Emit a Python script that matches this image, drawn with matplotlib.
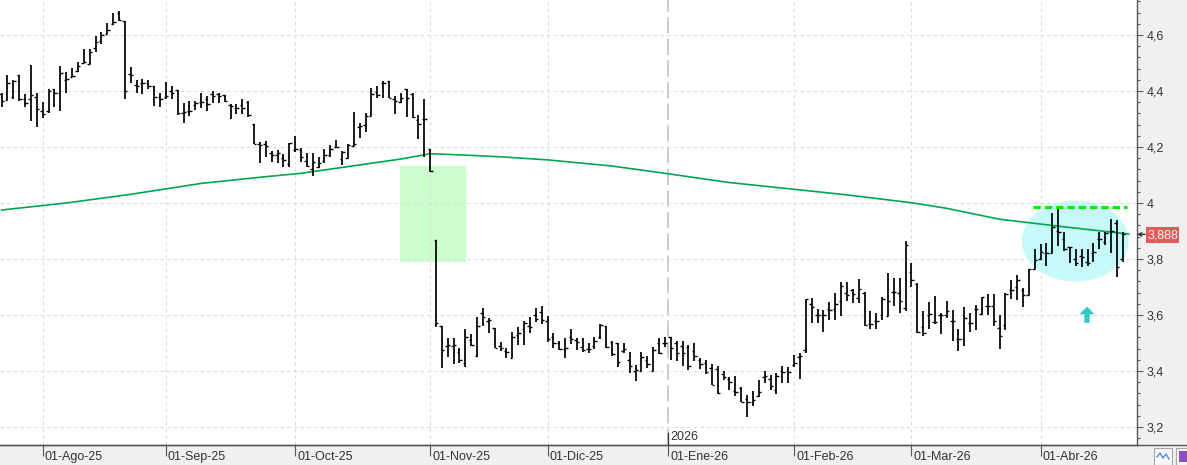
import matplotlib
matplotlib.use('Agg')
import matplotlib.pyplot as plt
import matplotlib.transforms as mtransforms
from matplotlib.patches import Rectangle, Ellipse
from matplotlib.ticker import FixedLocator, FuncFormatter

plt.rcParams['font.family'] = ['Liberation Sans', 'DejaVu Sans']

# ---------------- data (bar index 0 = 01-Ago-25) ----------------
first_index = -7
opens = [4.388, 4.368, 4.380, 4.456, 4.370, 4.370, 4.380,
         4.330, 4.330, 4.406, 4.394, 4.440, 4.450, 4.470, 4.500, 4.495, 4.552,
         4.580, 4.604, 4.640, 4.680, 4.651, 4.460, 4.420, 4.430, 4.430, 4.418,
         4.380, 4.380, 4.400, 4.404, 4.320, 4.330, 4.350, 4.360, 4.370, 4.390,
         4.390, 4.385, 4.350, 4.340, 4.350, 4.360, 4.282, 4.210, 4.210, 4.180,
         4.170, 4.160, 4.140, 4.190, 4.190, 4.150, 4.120, 4.130, 4.150, 4.170,
         4.200, 4.158, 4.160, 4.205, 4.270, 4.279, 4.311, 4.396, 4.430, 4.437,
         4.370, 4.360, 4.406, 4.390, 4.296, 4.300, 4.192, 3.868, 3.560, 3.490,
         3.490, 3.469, 3.430, 3.511, 3.454, 3.606, 3.580, 3.552, 3.490, 3.470,
         3.445, 3.530, 3.550, 3.560, 3.600, 3.610, 3.580, 3.520, 3.500, 3.480,
         3.520, 3.510, 3.487, 3.480, 3.490, 3.520, 3.562, 3.505, 3.500, 3.470,
         3.439, 3.400, 3.400, 3.440, 3.400, 3.500, 3.500, 3.520, 3.500, 3.490,
         3.487, 3.470, 3.440, 3.430, 3.410, 3.406, 3.390, 3.370, 3.330, 3.338,
         3.300, 3.290, 3.310, 3.380, 3.370, 3.332, 3.400, 3.400, 3.420, 3.450,
         3.475, 3.640, 3.600, 3.600, 3.620, 3.620, 3.651, 3.680, 3.689, 3.660,
         3.680, 3.567, 3.580, 3.600, 3.596, 3.683, 3.680, 3.624, 3.752, 3.711,
         3.558, 3.600, 3.574, 3.600, 3.600, 3.578, 3.514, 3.514, 3.573, 3.620,
         3.603, 3.632, 3.632, 3.552, 3.564, 3.690, 3.700, 3.690, 3.671, 3.763,
         3.800, 3.820, 3.820, 3.900, 3.870, 3.844, 3.800, 3.810, 3.790, 3.820,
         3.870, 3.860, 3.900, 3.930, 3.800]
highs = [4.392, 4.456, 4.439, 4.456, 4.389, 4.493, 4.392,
         4.360, 4.406, 4.406, 4.489, 4.468, 4.483, 4.502, 4.549, 4.549, 4.596,
         4.610, 4.644, 4.677, 4.687, 4.651, 4.487, 4.439, 4.444, 4.439, 4.418,
         4.392, 4.432, 4.418, 4.404, 4.356, 4.364, 4.364, 4.392, 4.382, 4.400,
         4.392, 4.385, 4.352, 4.352, 4.370, 4.364, 4.282, 4.217, 4.223, 4.187,
         4.189, 4.175, 4.213, 4.239, 4.195, 4.180, 4.180, 4.165, 4.192, 4.207,
         4.225, 4.187, 4.211, 4.324, 4.285, 4.320, 4.410, 4.418, 4.437, 4.437,
         4.383, 4.392, 4.406, 4.392, 4.314, 4.370, 4.192, 3.868, 3.562, 3.517,
         3.517, 3.483, 3.549, 3.531, 3.594, 3.624, 3.590, 3.552, 3.502, 3.483,
         3.538, 3.558, 3.580, 3.594, 3.624, 3.632, 3.596, 3.537, 3.507, 3.519,
         3.549, 3.519, 3.517, 3.501, 3.522, 3.567, 3.562, 3.507, 3.501, 3.501,
         3.469, 3.421, 3.469, 3.455, 3.487, 3.517, 3.523, 3.523, 3.508, 3.507,
         3.493, 3.499, 3.448, 3.439, 3.424, 3.418, 3.401, 3.380, 3.382, 3.342,
         3.314, 3.329, 3.368, 3.400, 3.386, 3.392, 3.418, 3.413, 3.457, 3.463,
         3.657, 3.660, 3.620, 3.618, 3.648, 3.677, 3.717, 3.719, 3.692, 3.727,
         3.683, 3.614, 3.608, 3.665, 3.749, 3.733, 3.733, 3.864, 3.785, 3.713,
         3.614, 3.648, 3.669, 3.608, 3.650, 3.618, 3.550, 3.627, 3.606, 3.636,
         3.665, 3.675, 3.675, 3.600, 3.677, 3.725, 3.743, 3.695, 3.763, 3.836,
         3.853, 3.856, 3.963, 3.977, 3.898, 3.844, 3.834, 3.834, 3.834, 3.858,
         3.898, 3.898, 3.942, 3.939, 3.898]
lows = [4.342, 4.368, 4.373, 4.365, 4.342, 4.294, 4.273,
        4.302, 4.320, 4.342, 4.330, 4.394, 4.449, 4.469, 4.499, 4.495, 4.540,
        4.567, 4.604, 4.636, 4.651, 4.373, 4.427, 4.392, 4.388, 4.406, 4.346,
        4.344, 4.370, 4.370, 4.314, 4.287, 4.312, 4.332, 4.338, 4.329, 4.356,
        4.356, 4.362, 4.299, 4.317, 4.317, 4.308, 4.210, 4.144, 4.163, 4.145,
        4.142, 4.130, 4.130, 4.183, 4.148, 4.127, 4.098, 4.124, 4.144, 4.165,
        4.199, 4.134, 4.156, 4.204, 4.233, 4.252, 4.311, 4.374, 4.374, 4.376,
        4.317, 4.356, 4.306, 4.302, 4.229, 4.165, 4.112, 3.558, 3.412, 3.449,
        3.424, 3.430, 3.415, 3.489, 3.451, 3.561, 3.535, 3.481, 3.471, 3.445,
        3.445, 3.492, 3.493, 3.537, 3.576, 3.567, 3.505, 3.481, 3.475, 3.445,
        3.495, 3.475, 3.469, 3.463, 3.477, 3.513, 3.481, 3.455, 3.415, 3.465,
        3.392, 3.365, 3.400, 3.410, 3.400, 3.461, 3.487, 3.439, 3.436, 3.418,
        3.404, 3.436, 3.406, 3.388, 3.350, 3.317, 3.368, 3.332, 3.312, 3.288,
        3.235, 3.276, 3.308, 3.356, 3.332, 3.317, 3.358, 3.358, 3.415, 3.370,
        3.463, 3.570, 3.570, 3.538, 3.582, 3.582, 3.598, 3.651, 3.642, 3.642,
        3.562, 3.550, 3.549, 3.582, 3.596, 3.633, 3.606, 3.614, 3.701, 3.535,
        3.525, 3.549, 3.567, 3.531, 3.588, 3.507, 3.473, 3.490, 3.541, 3.546,
        3.600, 3.600, 3.562, 3.478, 3.546, 3.657, 3.653, 3.627, 3.671, 3.763,
        3.796, 3.775, 3.820, 3.848, 3.829, 3.784, 3.776, 3.770, 3.776, 3.790,
        3.834, 3.850, 3.820, 3.737, 3.790]
closes = [4.365, 4.427, 4.436, 4.370, 4.358, 4.386, 4.336,
          4.317, 4.400, 4.392, 4.463, 4.444, 4.452, 4.490, 4.503, 4.538, 4.576,
          4.601, 4.618, 4.648, 4.654, 4.400, 4.456, 4.418, 4.427, 4.418, 4.380,
          4.370, 4.381, 4.394, 4.320, 4.325, 4.329, 4.356, 4.362, 4.352, 4.383,
          4.382, 4.364, 4.346, 4.340, 4.338, 4.314, 4.210, 4.207, 4.205, 4.171,
          4.180, 4.154, 4.213, 4.192, 4.163, 4.132, 4.145, 4.142, 4.171, 4.194,
          4.199, 4.182, 4.207, 4.210, 4.275, 4.311, 4.389, 4.385, 4.430, 4.376,
          4.364, 4.375, 4.375, 4.308, 4.281, 4.299, 4.114, 3.573, 3.475, 3.492,
          3.492, 3.439, 3.520, 3.493, 3.561, 3.594, 3.582, 3.481, 3.481, 3.469,
          3.523, 3.535, 3.573, 3.558, 3.585, 3.582, 3.513, 3.501, 3.479, 3.483,
          3.516, 3.504, 3.475, 3.479, 3.507, 3.564, 3.485, 3.460, 3.433, 3.477,
          3.418, 3.404, 3.451, 3.425, 3.475, 3.465, 3.501, 3.481, 3.465, 3.463,
          3.418, 3.453, 3.424, 3.398, 3.350, 3.320, 3.380, 3.362, 3.326, 3.290,
          3.288, 3.296, 3.326, 3.382, 3.348, 3.382, 3.398, 3.398, 3.427, 3.454,
          3.656, 3.627, 3.600, 3.600, 3.618, 3.639, 3.704, 3.671, 3.674, 3.692,
          3.564, 3.567, 3.580, 3.656, 3.650, 3.683, 3.650, 3.850, 3.725, 3.540,
          3.535, 3.602, 3.574, 3.600, 3.614, 3.580, 3.514, 3.588, 3.573, 3.620,
          3.665, 3.632, 3.580, 3.526, 3.675, 3.689, 3.725, 3.671, 3.763, 3.796,
          3.826, 3.820, 3.915, 3.898, 3.834, 3.842, 3.787, 3.808, 3.787, 3.826,
          3.870, 3.892, 3.901, 3.773, 3.888]

ma_index = [-7, 4, 15, 27, 38, 44, 52, 61, 66, 72, 78, 86, 97, 106, 117, 128,
            137, 148, 154, 163, 174, 185]
ma_values = [3.975, 4.000, 4.031, 4.070, 4.094, 4.106, 4.130, 4.157, 4.176,
             4.171, 4.165, 4.154, 4.132, 4.106, 4.073, 4.049, 4.029, 4.001,
             3.981, 3.942, 3.915, 3.889]

month_index = [0, 21, 43, 66, 86, 106.6, 128, 148, 170]
month_labels = ['01-Ago-25', '01-Sep-25', '01-Oct-25', '01-Nov-25', '01-Dic-25',
                '01-Ene-26', '01-Feb-26', '01-Mar-26', '01-Abr-26']
year_index = 106.6
year_label = '2026'
y_major = [3.2, 3.4, 3.6, 3.8, 4.0, 4.2, 4.4, 4.6]
last_price = 3.888
last_label = '3,888'

gap_x0, gap_x1, gap_y0, gap_y1 = 60.9, 72.1, 3.790, 4.132
res_level, res_x0, res_x1 = 3.987, 168.7, 184.7
ell_cx, ell_cy, ell_w, ell_h = 175.9, 3.864, 18.2, 0.289
arrow_x, arrow_y0, arrow_y1 = 177.9, 3.572, 3.630

# ---------------- figure ----------------
W, H = 1187, 465
PX0, PXS = 42.7, 5.87     # pixel of index 0, pixels per bar
AX_R, AX_B = 1137, 445    # right axis x, bottom axis y (pixels from top-left)

fig = plt.figure(figsize=(W / 100, H / 100), dpi=100)
fig.patch.set_facecolor('#f0f0f0')
ax = fig.add_axes([0, (H - AX_B) / H, AX_R / W, AX_B / H])
ax.set_facecolor('white')
ax.set_xlim((0 - PX0) / PXS, (AX_R - PX0) / PXS)
ax.set_ylim(4 - (AX_B - 203) / 280, 4 + 203 / 280)

for s in ['top', 'left']:
    ax.spines[s].set_visible(False)
ax.spines['right'].set_color('#555555')
ax.spines['right'].set_linewidth(1.0)
ax.spines['bottom'].set_color('#555555')
ax.spines['bottom'].set_linewidth(1.0)

# y axis on right
ax.yaxis.tick_right()
ax.yaxis.set_major_locator(FixedLocator(y_major))
minor = [3.16 + 0.04 * k for k in range(40)]
ax.yaxis.set_minor_locator(FixedLocator(minor))


def fmt(v, pos=None):
    s = f'{v:.1f}'
    if s.endswith('.0'):
        s = s[:-2]
    return s.replace('.', ',')


ax.yaxis.set_major_formatter(FuncFormatter(fmt))
ax.tick_params(axis='y', which='major', direction='out', length=4.3, width=0.8,
               color='#555555', labelsize=9, labelcolor='#333333', pad=2.6)
ax.tick_params(axis='y', which='minor', direction='out', length=2.3, width=0.8,
               color='#555555')

# x axis: ticks at month starts, custom labels
ax.set_xticks(month_index)
ax.set_xticklabels([''] * len(month_index))
ax.tick_params(axis='x', which='major', direction='out', length=8, width=0.8,
               color='#555555')
btrans = mtransforms.blended_transform_factory(ax.transData, ax.transAxes)
lab_trans = mtransforms.offset_copy(btrans, fig=fig, x=2, y=0, units='dots')
for xi, lab in zip(month_index, month_labels):
    ax.text(xi, -15 / AX_B, lab, transform=lab_trans, ha='left', va='baseline',
            fontsize=9, color='#333333', clip_on=False)

# grid
grid_kw = dict(colors='#dcdcdc', linewidth=0.8, linestyles=(0, (3, 3)), zorder=1)
ax.hlines(y_major, *ax.get_xlim(), **grid_kw)
ax.vlines([m for m in month_index if m != year_index], *ax.get_ylim(), **grid_kw)
# year separator
ax.vlines(year_index, *ax.get_ylim(), colors='#c8c8c8', linewidth=1.3,
          linestyles=(0, (9, 3)), zorder=1)
ax.plot([year_index, year_index], [0, 12 / AX_B], transform=btrans,
        color='#333333', lw=0.9, zorder=6)
ax.text(year_index, 5 / AX_B, year_label, transform=lab_trans, ha='left',
        va='baseline', fontsize=9, color='#333333')

# annotations: gap box, ellipse, resistance
ax.add_patch(Rectangle((gap_x0, gap_y0), gap_x1 - gap_x0, gap_y1 - gap_y0,
                       facecolor='#ccfdcc', edgecolor='none', zorder=0.5))
ax.add_patch(Ellipse((ell_cx, ell_cy), ell_w, ell_h, facecolor='#c8f9fa',
                     edgecolor='none', zorder=2))

# moving average
ax.plot(ma_index, ma_values, color='#00a84f', lw=1.2, zorder=3)

# OHLC bars
idx = [first_index + k for k in range(len(opens))]
ax.vlines(idx, lows, highs, colors='black', linewidth=1.25, zorder=4)
ax.hlines(opens, [i - 0.42 for i in idx], idx, colors='black', linewidth=1.0, zorder=4)
ax.hlines(closes, idx, [i + 0.42 for i in idx], colors='black', linewidth=1.0, zorder=4)

ax.hlines(res_level, res_x0, res_x1, colors='#00ee00', linewidth=2.2,
          linestyles=(0, (2.4, 1.3)), zorder=5)

ax.annotate('', xy=(arrow_x, arrow_y1), xytext=(arrow_x, arrow_y0),
            arrowprops=dict(arrowstyle='simple,head_length=0.55,head_width=1.1,tail_width=0.38',
                            color='#33c8c8', lw=0, shrinkA=0, shrinkB=0,
                            mutation_scale=10), zorder=5)

# last price marker and label
ytrans = mtransforms.blended_transform_factory(ax.transAxes, ax.transData)
ax.annotate('', xy=(1.0, last_price), xytext=(1.0 + 8 / AX_R, last_price),
            xycoords=ytrans, textcoords=ytrans, annotation_clip=False,
            arrowprops=dict(arrowstyle='->', color='#333333', lw=1.0,
                            shrinkA=0, shrinkB=0, mutation_scale=6))
box_h = 16 / 280
ax.add_patch(Rectangle((1146 / AX_R, last_price - box_h / 2 - 0.004), 33 / AX_R, box_h,
                       transform=ytrans, facecolor='#e35a5a', edgecolor='none',
                       clip_on=False, zorder=7))
ax.text(1162.5 / AX_R, last_price - 0.004, last_label, transform=ytrans, ha='center',
        va='center', fontsize=9, color='#fff0f0', clip_on=False, zorder=8)

# bottom line across whole width
fig.add_artist(plt.Line2D([0, 1], [(H - AX_B) / H] * 2, transform=fig.transFigure,
                          color='#555555', lw=1.0))

# small toolbar icons bottom-right
fig.add_artist(Rectangle((1154 / W, 0), 18 / W, 17 / H, transform=fig.transFigure,
                         facecolor='#f7f7f7', edgecolor='#a8a8a8', lw=0.8))
fig.add_artist(plt.Line2D([1157 / W, 1160 / W, 1163 / W, 1166 / W, 1169 / W],
                          [8 / H, 12 / H, 7 / H, 11 / H, 6 / H],
                          transform=fig.transFigure, color='#4a90d9', lw=1.0))
fig.add_artist(Rectangle((1176 / W, 0), 13 / W, 17 / H, transform=fig.transFigure,
                         facecolor='#f7f7f7', edgecolor='#a8a8a8', lw=0.8))
fig.add_artist(Rectangle((1179 / W, 3 / H), 8 / W, 11 / H, transform=fig.transFigure,
                         facecolor='#8a4fc8', edgecolor='none'))

fig.savefig('out.png', dpi=100, facecolor=fig.get_facecolor())
